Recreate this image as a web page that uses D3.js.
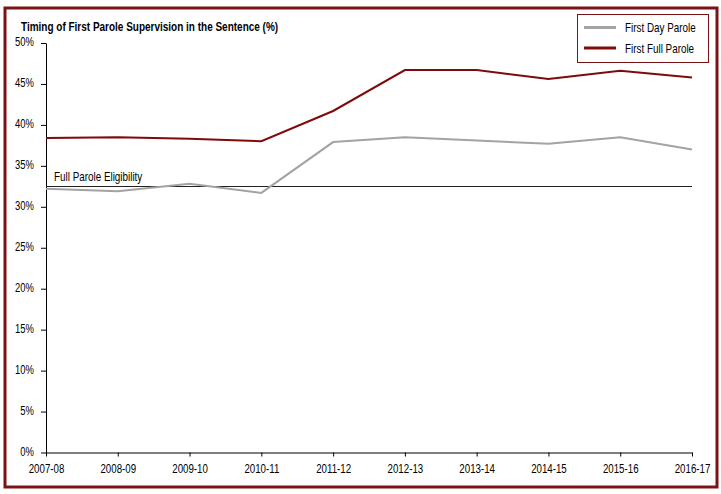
<!DOCTYPE html>
<html>
<head>
<meta charset="utf-8">
<script src="https://cdn.jsdelivr.net/npm/d3@7"></script>
<style>
  html, body { margin: 0; padding: 0; background: #fff; }
  svg text { font-family: "Liberation Sans Narrow", "Arial Narrow", "Liberation Sans", Arial, sans-serif; fill: #000; }
</style>
</head>
<body>
<div id="chart"></div>
<script>
const years = ['2007-08', '2008-09', '2009-10', '2010-11', '2011-12', '2012-13', '2013-14', '2014-15', '2015-16', '2016-17'];
const dayParole = [32.2, 31.9, 32.8, 31.7, 37.9, 38.5, 38.1, 37.7, 38.5, 37.0];
const fullParole = [38.4, 38.5, 38.3, 38.0, 41.7, 46.7, 46.7, 45.6, 46.6, 45.8];
const eligibility = 32.5;
const yTicks = [0, 5, 10, 15, 20, 25, 30, 35, 40, 45, 50];

const W = 721, H = 494;
const m = { left: 46, right: 29, top: 43, bottom: 41.5 };

// no narrow font installed: squeeze text horizontally instead
function narrow(sel, k) {
  sel.each(function() {
    const t = d3.select(this);
    const tx = +t.attr('x') || 0, ty = +t.attr('y') || 0;
    t.attr('x', 0).attr('y', 0).attr('transform', `translate(${tx},${ty}) scale(${k},1)`);
  });
}

const svg = d3.select('#chart').append('svg')
  .attr('width', W).attr('height', H);

// outer frame
svg.append('rect')
  .attr('x', 5).attr('y', 8).attr('width', 712).attr('height', 479)
  .attr('fill', 'none').attr('stroke', '#7a1315').attr('stroke-width', 3);

const x = d3.scalePoint().domain(years).range([m.left, W - m.right]);
const y = d3.scaleLinear().domain([0, 50]).range([H - m.bottom, m.top]);

// title
svg.append('text')
  .attr('x', 21).attr('y', 31)
  .attr('font-size', 12.5).attr('font-weight', 'bold')
  .text('Timing of First Parole Supervision in the Sentence (%)')
  .call(narrow, 0.8);

// y axis
const yAx = svg.append('g')
  .attr('transform', `translate(${m.left},0)`)
  .call(d3.axisLeft(y).tickValues(yTicks).tickFormat(d => d + '%').tickSize(5).tickSizeOuter(0));
yAx.select('.domain').attr('stroke', '#000');
yAx.selectAll('.tick line').attr('stroke', '#000');
yAx.selectAll('.tick text').attr('font-size', 13.5).attr('x', -12).attr('dy', '0.2em')
  .call(narrow, 0.7);

// x axis
const xAx = svg.append('g')
  .attr('transform', `translate(0,${y(0)})`)
  .call(d3.axisBottom(x).tickSize(4).tickSizeOuter(0));
xAx.select('.domain').attr('stroke', '#000');
xAx.selectAll('.tick line').attr('stroke', '#000');
xAx.selectAll('.tick text').attr('font-size', 13.5).attr('y', 10).attr('dy', '0.75em')
  .call(narrow, 0.72);

// eligibility line
svg.append('line')
  .attr('x1', x(years[0])).attr('x2', x(years[years.length - 1]))
  .attr('y1', Math.round(y(eligibility)) + 0.5).attr('y2', Math.round(y(eligibility)) + 0.5)
  .attr('stroke', '#222').attr('stroke-width', 1);
svg.append('text')
  .attr('x', 54).attr('y', y(eligibility) - 5)
  .attr('font-size', 12.5)
  .text('Full Parole Eligibility')
  .call(narrow, 0.79);

const line = d3.line().x((d, i) => x(years[i])).y(d => y(d));

svg.append('path').datum(dayParole)
  .attr('d', line).attr('fill', 'none')
  .attr('stroke', '#a3a3a3').attr('stroke-width', 2);
svg.append('path').datum(fullParole)
  .attr('d', line).attr('fill', 'none')
  .attr('stroke', '#7f0a0a').attr('stroke-width', 2);

// legend
const lg = svg.append('g');
lg.append('rect')
  .attr('x', 577.5).attr('y', 14.5).attr('width', 131).attr('height', 48)
  .attr('fill', '#fff').attr('stroke', '#7a1315').attr('stroke-width', 1);
const items = [['First Day Parole', '#a3a3a3'], ['First Full Parole', '#7f0a0a']];
items.forEach(([label, color], i) => {
  const yy = 27.5 + i * 20.5;
  lg.append('line').attr('x1', 584).attr('x2', 616).attr('y1', yy).attr('y2', yy)
    .attr('stroke', color).attr('stroke-width', 3);
  lg.append('text').attr('x', 625).attr('y', yy + 4.5)
    .attr('font-size', 13).text(label)
    .call(narrow, 0.76);
});
</script>
</body>
</html>
